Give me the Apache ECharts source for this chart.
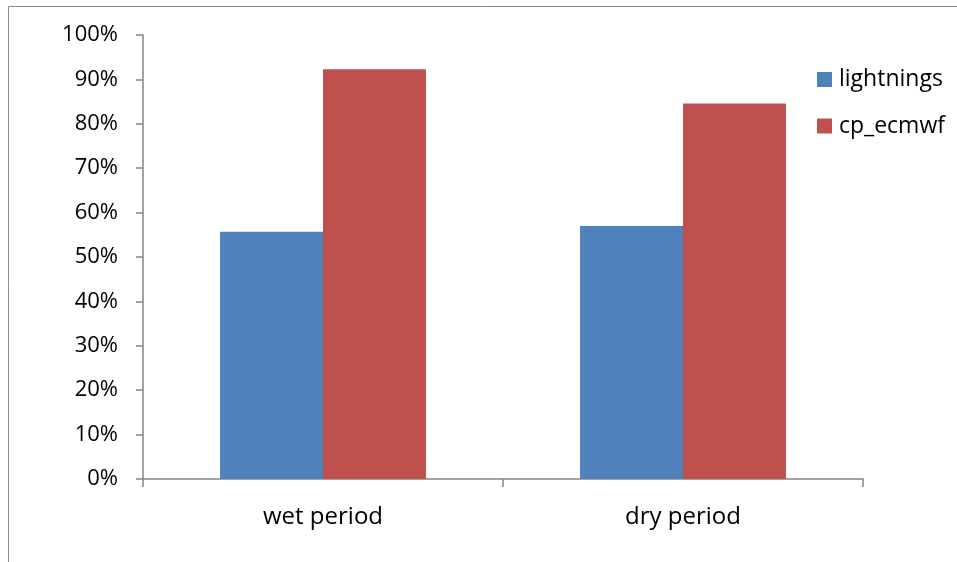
<!DOCTYPE html>
<html><head><meta charset="utf-8">
<script src="https://cdn.jsdelivr.net/npm/echarts@6/dist/echarts.min.js"></script>
<style>html,body{margin:0;padding:0;background:#fff}#c{width:957px;height:562px}</style>
</head><body><div id="c"></div>
<script>
var categories = ['wet period', 'dry period'];
var lightnings = [55.7, 57.0];
var cpEcmwf = [92.3, 84.6];
var yTicks = [0, 10, 20, 30, 40, 50, 60, 70, 80, 90, 100];

var FONT = '"Open Sans", "Noto Sans", sans-serif';
var chart = echarts.init(document.getElementById('c'), null, {renderer: 'canvas'});
chart.setOption({
  animation: false,
  backgroundColor: '#fff',
  graphic: [
    {type: 'line', shape: {x1: 8.5, y1: 6.5, x2: 957, y2: 6.5}, style: {stroke: '#8a8a8a', lineWidth: 1}},
    {type: 'line', shape: {x1: 8.5, y1: 6.5, x2: 8.5, y2: 562}, style: {stroke: '#8a8a8a', lineWidth: 1}}
  ],
  grid: {left: 143, right: 94, top: 35, bottom: 83, containLabel: false},
  legend: {
    orient: 'vertical', left: 817, top: 68, padding: 0,
    itemWidth: 15, itemHeight: 15, itemGap: 23.5,
    icon: 'rect',
    textStyle: {fontFamily: FONT, fontSize: 23, color: '#000', lineHeight: 23, padding: [0, 0, 0, 2]},
    data: ['lightnings', 'cp_ecmwf']
  },
  xAxis: {
    type: 'category', data: categories,
    axisLine: {lineStyle: {color: '#868686', width: 1.5}},
    axisTick: {show: true, length: 8, alignWithLabel: false, lineStyle: {color: '#868686', width: 1.5}},
    axisLabel: {fontFamily: FONT, fontSize: 24, color: '#000', margin: 26}
  },
  yAxis: {
    type: 'value', min: 0, max: 100, interval: 10,
    axisLine: {show: true, lineStyle: {color: '#868686', width: 1.5}},
    axisTick: {show: true, length: 7, lineStyle: {color: '#868686', width: 1.5}},
    splitLine: {show: false},
    axisLabel: {fontFamily: FONT, fontSize: 22, color: '#000', margin: 25,
      formatter: function (v) { return yTicks.indexOf(v) >= 0 ? v + '%' : ''; }}
  },
  series: [
    {name: 'lightnings', type: 'bar', data: lightnings, barGap: '0%', barCategoryGap: '42.8%',
     itemStyle: {color: '#4F81BD'}},
    {name: 'cp_ecmwf', type: 'bar', data: cpEcmwf, barGap: '0%', barCategoryGap: '42.8%',
     itemStyle: {color: '#C0504D'}}
  ]
});
</script></body></html>
